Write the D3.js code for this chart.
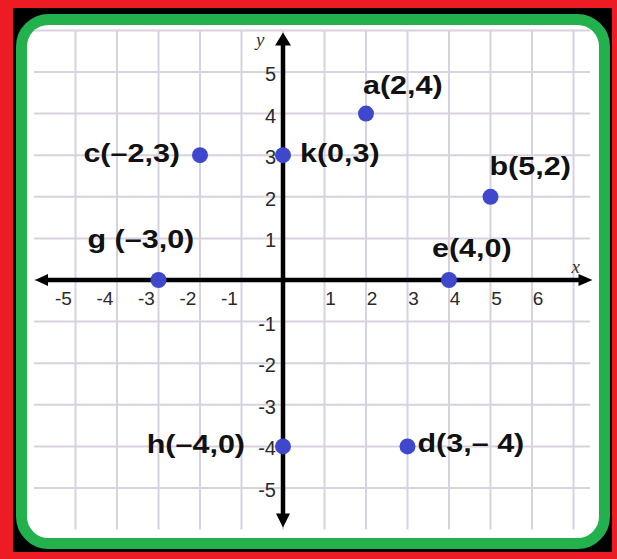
<!DOCTYPE html>
<html>
<head>
<meta charset="utf-8">
<script src="https://cdn.jsdelivr.net/npm/d3@7"></script>
<style>
body { margin: 0; background: #fff; }
</style>
</head>
<body>
<script>
// Size of the picture
const w = 617;
const h = 559;

// Points on the plane, one entry per point
const pointNames = ["a", "b", "c", "d", "e", "g", "h", "k"];
const pointX = [2, 5, -2, 3, 4, -3, 0, 0];
const pointY = [4, 2, 3, -4, 0, 0, -4, 3];
const pointLabels = ["a(2,4)", "b(5,2)", "c(–2,3)", "d(3,– 4)", "e(4,0)", "g (–3,0)", "h(–4,0)", "k(0,3)"];

// Tick labels on the axes
const xTicks = [-5, -4, -3, -2, -1, 1, 2, 3, 4, 5, 6];
const yTicks = [5, 4, 3, 2, 1, -1, -2, -3, -4, -5];

// Grid lines
const gridX = [-5, -4, -3, -2, -1, 0, 1, 2, 3, 4, 5, 6, 7];
const gridY = [6, 5, 4, 3, 2, 1, 0, -1, -2, -3, -4, -5];

// Where each label sits next to its point (pixels)
const labelPlace = {
  a: { dx: -3, dy: -20, anchor: "start" },
  b: { dx: -1, dy: -22, anchor: "start" },
  c: { dx: -20, dy: 7, anchor: "end" },
  d: { dx: 10, dy: 6, anchor: "start" },
  e: { dx: -17, dy: -23, anchor: "start" },
  g: { dx: -71, dy: -32, anchor: "start" },
  h: { dx: -38, dy: 7, anchor: "end" },
  k: { dx: 17, dy: 7, anchor: "start" }
};

const svg = d3.select("body")
  .append("svg")
  .attr("width", w)
  .attr("height", h);

// Frame: red outside, black behind, green rounded border
svg.append("rect").attr("width", w).attr("height", h).attr("fill", "#ed1c24");
svg.append("rect").attr("x", 13).attr("y", 8).attr("width", 599).attr("height", 544).attr("fill", "#000");
svg.append("rect")
  .attr("x", 21.5).attr("y", 19.5)
  .attr("width", 583).attr("height", 524)
  .attr("rx", 27)
  .attr("fill", "#fff")
  .attr("stroke", "#22b14c")
  .attr("stroke-width", 11);

// Scales, one unit is about 41.5 px
const xScale = d3.scaleLinear().domain([-6, 7]).range([34, 573.5]);
const yScale = d3.scaleLinear().domain([-6, 6]).range([529.6, 30.4]);

// grid
const grid = svg.append("g")
  .attr("stroke", "#d8d2df")
  .attr("stroke-width", 2);

grid.selectAll("line.v")
  .data(gridX)
  .enter()
  .append("line")
  .attr("class", "v")
  .attr("x1", d => xScale(d)).attr("x2", d => xScale(d))
  .attr("y1", yScale(6)).attr("y2", yScale(-6));

grid.selectAll("line.h")
  .data(gridY)
  .enter()
  .append("line")
  .attr("class", "h")
  .attr("x1", xScale(-6)).attr("x2", xScale(7.4))
  .attr("y1", d => yScale(d)).attr("y2", d => yScale(d));

// axes with arrow heads
const axes = svg.append("g");
const x0 = xScale(0);
const y0 = yScale(0);

axes.append("line")
  .attr("x1", xScale(-5.8)).attr("x2", xScale(7.2))
  .attr("y1", y0).attr("y2", y0)
  .attr("stroke", "#000").attr("stroke-width", 4.5);

axes.append("line")
  .attr("x1", x0).attr("x2", x0)
  .attr("y1", yScale(5.75)).attr("y2", yScale(-5.75))
  .attr("stroke", "#000").attr("stroke-width", 4.5);

const arrows = [
  [[xScale(-6) + 1, y0], [xScale(-6) + 14, y0 - 6], [xScale(-6) + 14, y0 + 6]],
  [[xScale(7) + 19, y0], [xScale(7) + 5, y0 - 6], [xScale(7) + 5, y0 + 6]],
  [[x0, yScale(6) + 2], [x0 - 8, yScale(6) + 15], [x0 + 8, yScale(6) + 15]],
  [[x0, yScale(-6) - 2], [x0 - 7, yScale(-6) - 16], [x0 + 7, yScale(-6) - 16]]
];
axes.selectAll("path")
  .data(arrows)
  .enter()
  .append("path")
  .attr("d", d => "M" + d.join("L") + "Z")
  .attr("fill", "#000");

// axis names
svg.append("text")
  .attr("x", xScale(7) - 2).attr("y", y0 - 7)
  .attr("font-family", "Liberation Serif")
  .attr("font-style", "italic")
  .attr("font-size", 19)
  .attr("fill", "#333")
  .text("x");

svg.append("text")
  .attr("x", x0 - 27).attr("y", yScale(6) + 16)
  .attr("font-family", "Liberation Serif")
  .attr("font-style", "italic")
  .attr("font-size", 19)
  .attr("fill", "#333")
  .text("y");

// tick labels
svg.selectAll("text.xt")
  .data(xTicks)
  .enter()
  .append("text")
  .attr("class", "xt")
  .attr("x", d => xScale(d) + (d < 0 ? -12 : 6))
  .attr("y", y0 + 25)
  .attr("text-anchor", "middle")
  .attr("font-family", "Liberation Sans")
  .attr("font-size", 19)
  .attr("fill", "#2a2a2a")
  .text(d => d);

svg.selectAll("text.yt")
  .data(yTicks)
  .enter()
  .append("text")
  .attr("class", "yt")
  .attr("x", x0 - 7)
  .attr("y", d => yScale(d) + 9)
  .attr("text-anchor", "end")
  .attr("font-family", "Liberation Sans")
  .attr("font-size", 20)
  .attr("fill", "#2a2a2a")
  .text(d => d);

// points
svg.selectAll("circle")
  .data(pointNames)
  .enter()
  .append("circle")
  .attr("cx", (d, i) => xScale(pointX[i]))
  .attr("cy", (d, i) => yScale(pointY[i]))
  .attr("r", 8)
  .attr("fill", "#3f48cc");

// point labels, stretched a bit wide like the original
svg.selectAll("text.pl")
  .data(pointNames)
  .enter()
  .append("text")
  .attr("class", "pl")
  .attr("transform", (d, i) => `translate(${xScale(pointX[i]) + labelPlace[d].dx}, ${yScale(pointY[i]) + labelPlace[d].dy}) scale(1.22, 1)`)
  .attr("text-anchor", d => labelPlace[d].anchor)
  .attr("font-family", "Liberation Sans")
  .attr("font-weight", "bold")
  .attr("font-size", 25)
  .attr("fill", "#111")
  .text((d, i) => pointLabels[i]);
</script>
</body>
</html>
